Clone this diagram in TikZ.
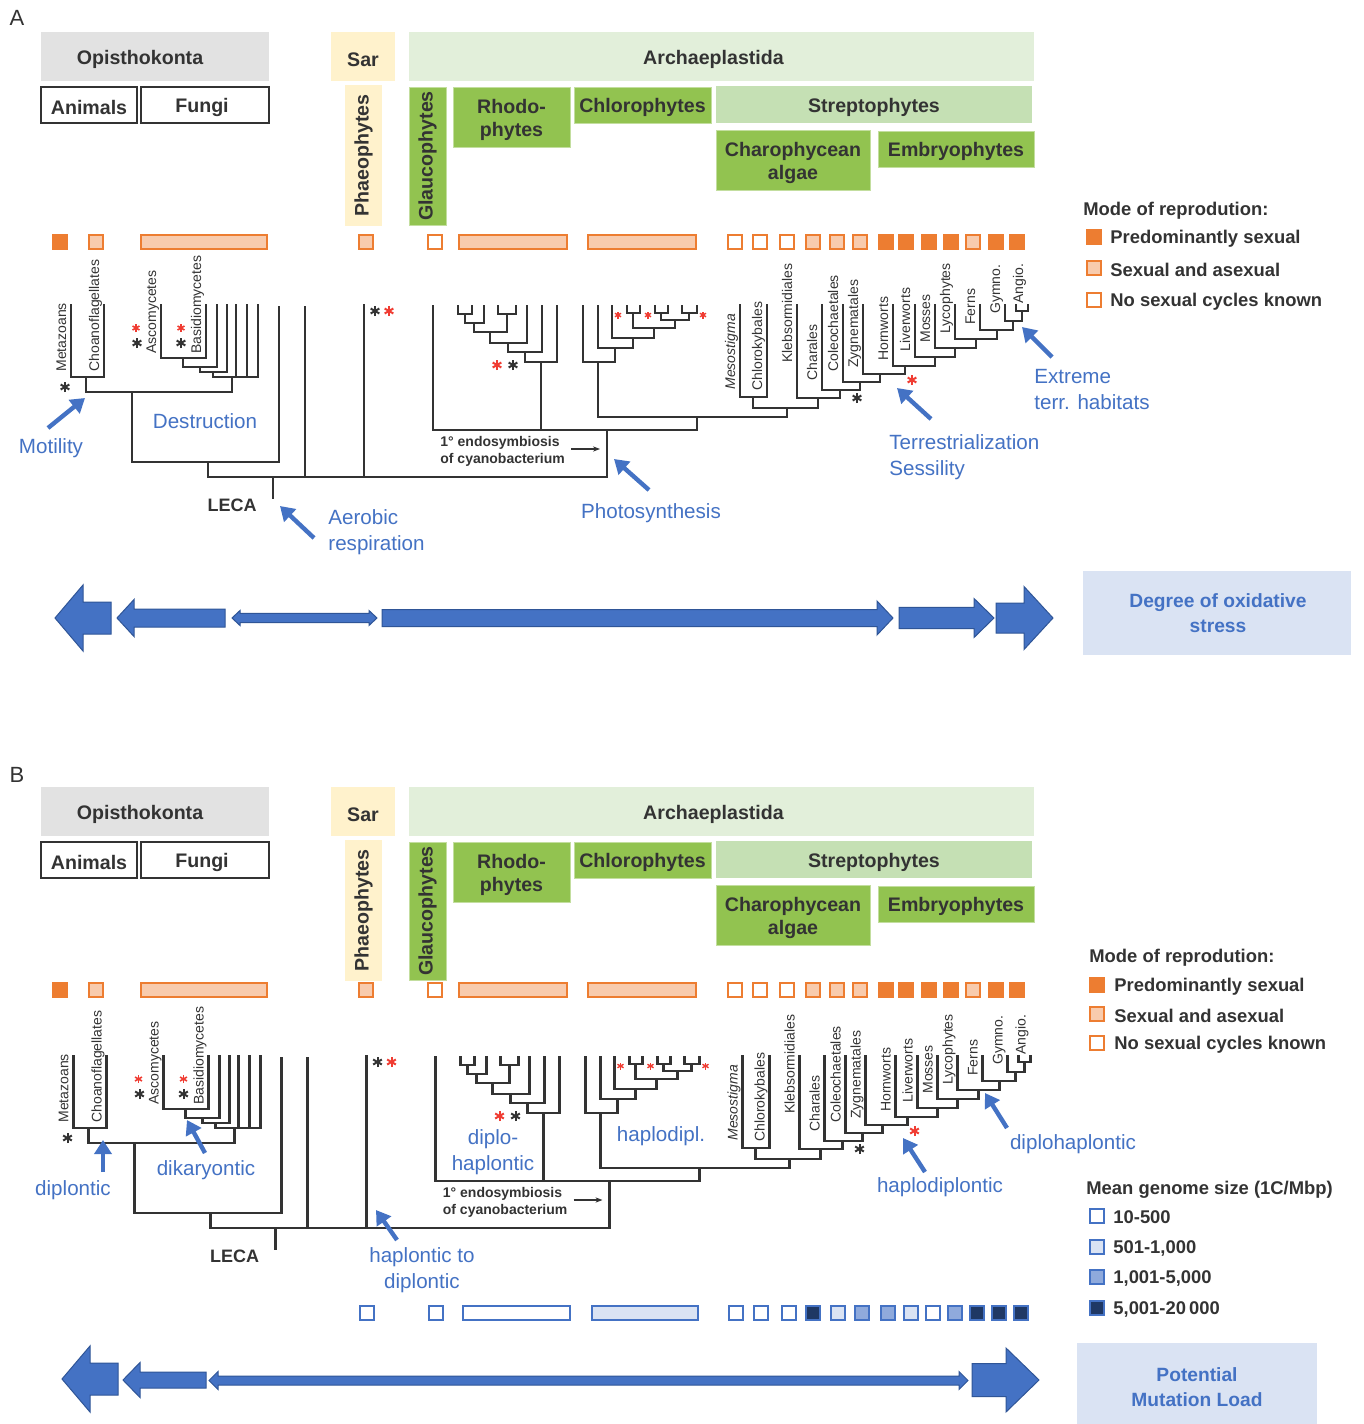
\documentclass[tikz,border=0pt]{standalone}
\usepackage{fontspec}
\setmainfont{Liberation Sans}
\usetikzlibrary{arrows.meta,positioning,calc}
\definecolor{phBlue}    {HTML}{4472C4}
\definecolor{phBlueD}   {HTML}{2F5597}
\definecolor{phBlueL}   {HTML}{DAE3F3}
\definecolor{phBlueM}   {HTML}{8FAADC}
\definecolor{phNavy}    {HTML}{1F3864}
\definecolor{phOrange}  {HTML}{ED7D31}
\definecolor{phOrangeL} {HTML}{F8CBAD}
\definecolor{phGreen}   {RGB}{146,195, 80}
\definecolor{phGreenL}  {HTML}{E2EFDA}
\definecolor{phGreenM}  {HTML}{C5E0B4}
\definecolor{phYellowL} {HTML}{FFF2CC}
\definecolor{phGreyL}   {HTML}{E2E2E2}
\definecolor{phInk}     {HTML}{333333}
\definecolor{phRed}     {HTML}{F03C32}

% boxes of the clade header
\newcommand{\cladebox}[8][0]{%
  \path[#2] (#3,#4) rectangle (#5,#6);
  \node[hdr,yshift=-1.4pt] (#7) at ({(#3+#5)/2+#1},{(#4+#6)/2}) {#8};}
\newcommand{\cladeboxv}[7]{%
  \path[#1] (#2,#3) rectangle (#4,#5);
  \node[hdr,rotate=90] (#6) at ({(#2+#4)/2},{(#3+#5)/2}) {#7};}
% six-armed asterisk
\newcommand{\starmark}[4]{%
  \foreach \ang in {90,30,-30}
    \draw[#3,line width=#4*0.2pt] (#1,#2) ++(\ang:#4) -- ++(\ang+180:2*#4);}
% block arrows
\newcommand{\blockR}[6]{% left, head back, tip, y, body half, head half
  \filldraw[blk] (#1,#4-#5) -- (#2,#4-#5) -- (#2,#4-#6) -- (#3,#4)
    -- (#2,#4+#6) -- (#2,#4+#5) -- (#1,#4+#5) -- cycle;}
\newcommand{\blockL}[6]{% tip, head back, right, y, body half, head half
  \filldraw[blk] (#3,#4-#5) -- (#2,#4-#5) -- (#2,#4-#6) -- (#1,#4)
    -- (#2,#4+#6) -- (#2,#4+#5) -- (#3,#4+#5) -- cycle;}
\newcommand{\blockD}[7]{% left tip, left back, right back, right tip, y, body half, head half
  \filldraw[blk] (#1,#5) -- (#2,#5-#7) -- (#2,#5-#6) -- (#3,#5-#6) -- (#3,#5-#7)
    -- (#4,#5) -- (#3,#5+#7) -- (#3,#5+#6) -- (#2,#5+#6) -- (#2,#5+#7) -- cycle;}

\newcommand{\euheaders}[1]{%
  \cladebox[-15]{opisbox}{41}{32}{269}{81}{#1opis}{Opisthokonta}
  \cladebox{whitebox}{41}{87}{137}{123}{#1anim}{Animals}
  \cladebox[-3]{whitebox}{141}{87}{269}{123}{#1fung}{Fungi}
  \cladebox{sarbox}{331}{32}{395}{81}{#1sar}{Sar}
  \cladeboxv{sarbox}{345}{85}{382}{226}{#1phae}{Phaeophytes}
  \cladebox[-8]{archbox}{409}{32}{1034}{81}{#1arch}{Archaeplastida}
  \cladeboxv{greenbox}{409}{87}{446}{225}{#1glau}{Glaucophytes}
  \cladebox{greenbox}{453}{87}{570}{147}{#1rhod}{Rhodo-\\phytes}
  \cladebox{greenbox}{574}{87}{711}{123}{#1chlo}{Chlorophytes}
  \cladebox{strepbox}{716}{86}{1032}{123}{#1stre}{Streptophytes}
  \cladebox{greenbox}{716}{130}{870}{190}{#1chph}{Charophycean\\algae}
  \cladebox{greenbox}{878}{131}{1034}{167}{#1embr}{Embryophytes}}

\newcommand{\reprorow}{%
  \foreach \x/\c in {60/phOrange,96/phOrangeL,366/phOrangeL,435/white,
      735/white,760/white,787/white,813/phOrangeL,837/phOrangeL,860/phOrangeL,
      886/phOrange,906/phOrange,929/phOrange,951/phOrange,973/phOrangeL,
      996/phOrange,1017/phOrange}
    \draw[repbox,fill=\c] (\x-7,235) rectangle (\x+7,249);
  \foreach \a/\b in {141/267,459/567,588/696}
    \draw[repbox,fill=phOrangeL] (\a,235) rectangle (\b,249);}

\newcommand{\eutree}[1]{%
  % Opisthokonta
  \draw[tree] (71,305) -- (71,377) -- (104,377) -- (104,305);
  \draw[tree] (86,377) -- (86,392) -- (232,392) -- (232,377);
  \draw[tree] (161,305) -- (161,358) -- (206,358) -- (206,305);
  \draw[tree] (183,358) -- (183,367) -- (217,367) -- (217,305);
  \draw[tree] (200,367) -- (200,372) -- (227,372) -- (227,305);
  \draw[tree] (213,372) -- (213,377) -- (258,377) -- (258,305);
  \draw[tree] (236,305) -- (236,377) (247,305) -- (247,377);
  \draw[tree] (132,392) -- (132,462) -- (279,462) -- (279,307);
  \draw[tree] (208,462) -- (208,477) -- (607,477) -- (607,430);
  \draw[tree] (305,307) -- (305,477) (364,305) -- (364,477) (273,477) -- (273,498);
  % Archaeplastida
  \draw[tree] (433,306) -- (433,430) -- (697,430) -- (697,417);
  \draw[tree] (458,306) -- (458,314) -- (472,314) -- (472,306);
  \draw[tree] (465,314) -- (465,323) -- (484,323) -- (484,306);
  \draw[tree] (498,306) -- (498,314) -- (516,314) -- (516,306);
  \draw[tree] (474,323) -- (474,332) -- (507,332) -- (507,314);
  \draw[tree] (490,332) -- (490,343) -- (527,343) -- (527,306);
  \draw[tree] (508,343) -- (508,352) -- (542,352) -- (542,306);
  \draw[tree] (525,352) -- (525,362) -- (557,362) -- (557,306);
  \draw[tree] (541,362) -- (541,430);
  \draw[tree] (627,306) -- (627,313) -- (640,313) -- (640,306);
  \draw[tree] (655,306) -- (655,313) -- (668,313) -- (668,306);
  \draw[tree] (682,306) -- (682,313) -- (697,313) -- (697,306);
  \draw[tree] (661,313) -- (661,320) -- (689,320) -- (689,313);
  \draw[tree] (633,313) -- (633,328) -- (675,328) -- (675,320);
  \draw[tree] (612,306) -- (612,338) -- (654,338) -- (654,328);
  \draw[tree] (598,306) -- (598,348) -- (633,348) -- (633,338);
  \draw[tree] (583,306) -- (583,362) -- (615,362) -- (615,348);
  \draw[tree] (598,362) -- (598,417) -- (787,417) -- (787,408);
  % streptophytes
  \draw[tree] (740,305) -- (740,397) -- (767,397) -- (767,305);
  \draw[tree] (753,397) -- (753,408) -- (818,408) -- (818,398);
  \draw[tree] (797,305) -- (797,398) -- (840,398) -- (840,390);
  \draw[tree] (822,305) -- (822,390) -- (860,390) -- (860,382);
  \draw[tree] (843,305) -- (843,382) -- (880,382) -- (880,374);
  \draw[tree] (863,305) -- (863,374) -- (905,374) -- (905,366);
  \draw[tree] (893,305) -- (893,366) -- (935,366) -- (935,357);
  \draw[tree] (915,305) -- (915,357) -- (955,357) -- (955,348);
  \draw[tree] (935,305) -- (935,348) -- (976,348) -- (976,339);
  \draw[tree] (955,305) -- (955,339) -- (997,339) -- (997,330);
  \draw[tree] (980,305) -- (980,330) -- (1013,330) -- (1013,321);
  \draw[tree] (1005,305) -- (1005,321) -- (1022,321) -- (1022,311);
  \draw[tree] (1016,305) -- (1016,311) -- (1028,311) -- (1028,305);
  % tip names
  \foreach \nm/\x/\y/\lab in {meta/71/372/Metazoans,choa/104/372/Choanoflagellates,
      asco/161/354/Ascomycetes,basi/206/354/Basidiomycetes,
      chlk/767/391/Chlorokybales,kleb/797/363/Klebsormidiales,char/822/381/Charales,
      cole/843/372/Coleochaetales,zygn/863/368/Zygnematales,horn/893/361/Hornworts,
      live/915/352/Liverworts,moss/935/343/Mosses,lyco/955/334/Lycophytes,
      fern/980/325/Ferns,gymn/1005/314/Gymno.,angi/1028/304/Angio.}
    \node[tiplab] (#1\nm) at (\x-5,\y) {\lab};
  \node[tiplab,font=\fontsize{7}{8}\selectfont\itshape] (#1meso) at (735,390) {Mesostigma};
  % asterisks
  \starmark{65}{387}{phInk}{5}
  \starmark{137}{343}{phInk}{5} \starmark{136}{328}{phRed}{4}
  \starmark{181}{343}{phInk}{5} \starmark{181}{328}{phRed}{4}
  \starmark{375}{311}{phInk}{5} \starmark{389}{311}{phRed}{5}
  \starmark{497}{365}{phRed}{5} \starmark{513}{365}{phInk}{5}
  \starmark{618}{315}{phRed}{3.5} \starmark{648}{315}{phRed}{3.5} \starmark{703}{315}{phRed}{3.5}
  \starmark{857}{398}{phInk}{5} \starmark{912}{380}{phRed}{5}
  % root and plastid event
  \node[leca] (#1leca) at (232,505) {LECA};
  \node[endo] (#1endo) at (440,436) {1° endosymbiosis\\of cyanobacterium};
  \coordinate (#1endoS) at (571,449);
  \coordinate (#1endoE) at (600,449);
  \draw[endoarr] (#1endoS) -- (#1endoE);}

\begin{document}
\begin{tikzpicture}[x=0.5pt,y=-0.5pt,
  every node/.style={text=phInk},
  hdr/.style={font=\fontsize{9.8}{11.2}\selectfont\bfseries,align=center,inner sep=0pt},
  opisbox/.style={fill=phGreyL},
  whitebox/.style={fill=white,draw=phInk,line width=0.8pt},
  sarbox/.style={fill=phYellowL},
  archbox/.style={fill=phGreenL},
  strepbox/.style={fill=phGreenM},
  greenbox/.style={fill=phGreen,draw=phGreen!55!white,line width=0.5pt},
  repbox/.style={draw=phOrange,line width=0.9pt},
  gsbox/.style={draw=phBlue,line width=0.9pt},
  tree/.style={draw=phInk,line width=1.2pt,line cap=rect},
  tiplab/.style={font=\fontsize{7}{8}\selectfont,rotate=90,anchor=base west,inner sep=0pt},
  leca/.style={font=\fontsize{9}{10}\selectfont\bfseries,inner sep=0pt},
  endo/.style={font=\fontsize{7}{8.5}\selectfont\bfseries,align=left,anchor=north west,inner sep=0pt},
  endoarr/.style={draw=phInk,line width=0.6pt,-{Stealth[length=3.5pt]}},
  annot/.style={font=\fontsize{10.3}{13}\selectfont,text=phBlue,inner sep=0pt,align=center},
  pointer/.style={draw=phBlue,line width=2.2pt,-{Triangle[length=7pt,width=8.5pt]}},
  blk/.style={fill=phBlue,draw=phBlueD,line width=0.5pt},
  legtxt/.style={font=\fontsize{9.2}{11}\selectfont\bfseries,anchor=west,inner sep=0pt},
  boxtxt/.style={font=\fontsize{9.6}{12.5}\selectfont\bfseries,text=phBlue,align=center,inner sep=0pt},
  panel/.style={font=\fontsize{11}{13}\selectfont,inner sep=0pt}
]
\fill[white] (0,0) rectangle (1364,1424);
\useasboundingbox (0,0) rectangle (1364,1424);

% ================= panel A =================
\node[panel] (lblA) at (17,18) {A};
\euheaders{a}
\reprorow
\eutree{a}

\node[legtxt] (legA) at (1083,211) {Mode of reprodution:};
\foreach \y/\c/\lab in {237/phOrange/Predominantly sexual,268/phOrangeL/Sexual and asexual,
    300/white/No sexual cycles known}{
  \draw[repbox,fill=\c] (1087,\y-7) rectangle (1101,\y+7);
  \node[legtxt] (legA\y) at (1110,\y+2) {\lab};}

\node[annot] (destr) at (205,421) {Destruction};
\node[annot] (motil) at (51,448) {Motility};
\coordinate (motS) at (48,428);   \coordinate (motE) at (85,398);
\draw[pointer] (motS) -- (motE);
\node[annot,anchor=north west,align=left] (aerob) at (328,509) {Aerobic\\respiration};
\coordinate (aerS) at (314,538);  \coordinate (aerE) at (280,506);
\draw[pointer] (aerS) -- (aerE);
\node[annot] (photo) at (651,513) {Photosynthesis};
\coordinate (phoS) at (649,490);  \coordinate (phoE) at (614,459);
\draw[pointer] (phoS) -- (phoE);
\node[annot,anchor=north west,align=left] (terr) at (889,434) {Terrestrialization\\Sessility};
\coordinate (terS) at (931,419);  \coordinate (terE) at (897,388);
\draw[pointer] (terS) -- (terE);
\node[annot,anchor=north west,align=left] (extr) at (1034,369) {Extreme\\terr. habitats};
\coordinate (extS) at (1052,357); \coordinate (extE) at (1022,327);
\draw[pointer] (extS) -- (extE);

% oxidative stress scale
\blockL{55}{83}{111}{618}{16}{33}
\blockL{117}{134}{225}{618}{9}{18.5}
\blockD{232}{240}{369}{377}{618}{4.6}{7.5}
\blockR{382}{877}{893}{618}{8.5}{17}
\blockR{899}{974}{994}{618}{10.7}{19.5}
\blockR{996}{1024}{1053}{618}{15}{31.5}
\path[fill=phBlueL] (1083,571) rectangle (1351,655);
\node[boxtxt] (oxlbl) at (1218,613) {Degree of oxidative\\stress};

% ================= panel B =================
\node[panel] (lblB) at (17,775) {B};
\begin{scope}[shift={(0,755)}]
  \euheaders{b}
\end{scope}
\begin{scope}[shift={(0,748)}]
  \reprorow
\end{scope}
\begin{scope}[shift={(2.5,751)}]
  \eutree{b}
\end{scope}

\node[legtxt] (legB) at (1089,958) {Mode of reprodution:};
\foreach \y/\c/\lab in {985/phOrange/Predominantly sexual,1014/phOrangeL/Sexual and asexual,
    1043/white/No sexual cycles known}{
  \draw[repbox,fill=\c] (1090,\y-7) rectangle (1104,\y+7);
  \node[legtxt] (legB\y) at (1114,\y+2) {\lab};}
\node[legtxt] (legG) at (1086,1190) {Mean genome size (1C/Mbp)};
\foreach \y/\c/\lab in {1216/white/10-500,1247/phBlueL/{501-1,000},
    1277/phBlueM/{1,001-5,000},1308/phNavy/{5,001-20\,000}}{
  \draw[gsbox,fill=\c] (1090,\y-7) rectangle (1104,\y+7);
  \node[legtxt] (legG\y) at (1113,\y+1) {\lab};}

% genome size row
\foreach \x/\c in {367/white,436/white,736/white,761/white,789/white,813/phNavy,
    838/phBlueL,862/phBlueM,888/phBlueM,911/phBlueL,933/white,955/phBlueM,
    977/phNavy,999/phNavy,1021/phNavy}
  \draw[gsbox,fill=\c] (\x-7,1306) rectangle (\x+7,1320);
\draw[gsbox,fill=white] (463,1306) rectangle (570,1320);
\draw[gsbox,fill=phBlueL] (592,1306) rectangle (698,1320);

\node[annot] (dipl) at (73,1190) {diplontic};
\coordinate (diS) at (103,1172);  \coordinate (diE) at (103,1140);
\draw[pointer] (diS) -- (diE);
\node[annot] (dika) at (206,1170) {dikaryontic};
\coordinate (dkS) at (205,1153);  \coordinate (dkE) at (187,1120);
\draw[pointer] (dkS) -- (dkE);
\node[annot] (dipha) at (493,1152) {diplo-\\haplontic};
\node[annot] (hapdi) at (661,1136) {haplodipl.};
\node[annot] (haptod) at (422,1270) {haplontic to\\diplontic};
\coordinate (htS) at (397,1240);  \coordinate (htE) at (376,1210);
\draw[pointer] (htS) -- (htE);
\node[annot] (hdip) at (940,1187) {haplodiplontic};
\coordinate (hdS) at (925,1172);  \coordinate (hdE) at (903,1138);
\draw[pointer] (hdS) -- (hdE);
\node[annot] (dhap) at (1073,1144) {diplohaplontic};
\coordinate (dhS) at (1007,1128); \coordinate (dhE) at (985,1093);
\draw[pointer] (dhS) -- (dhE);

% mutation load scale
\blockL{62}{90}{118}{1379}{16}{33}
\blockL{123}{140}{206}{1380}{8}{17.5}
\blockD{209}{218}{959}{968}{1380.5}{4.5}{9}
\blockR{972}{1006}{1039}{1380}{16.5}{32}
\path[fill=phBlueL] (1077,1343) rectangle (1317,1424);
\node[boxtxt] (mutlbl) at (1197,1387) {Potential\\Mutation Load};
\end{tikzpicture}
\end{document}
